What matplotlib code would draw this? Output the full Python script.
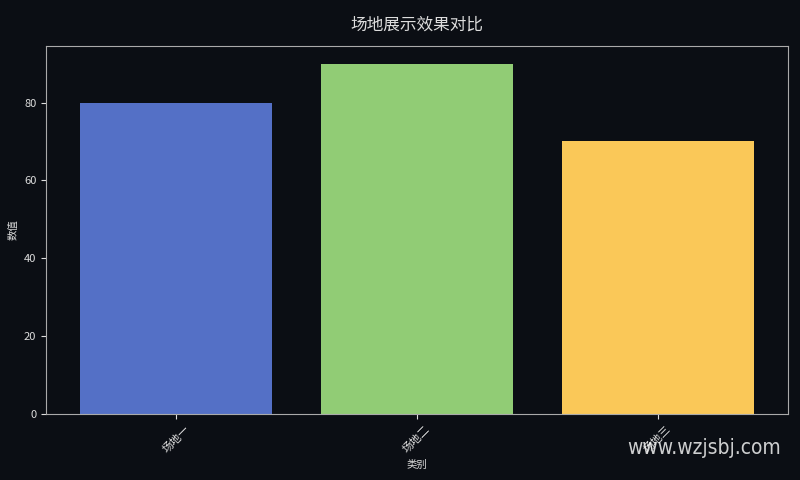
import matplotlib
matplotlib.use("Agg")
import matplotlib.pyplot as plt

plt.rcParams['font.family'] = ['Noto Sans CJK SC', 'DejaVu Sans']

categories = ['场地一', '场地二', '场地三']
values = [80, 90, 70]
colors = ['#5470c6', '#91cc75', '#fac858']

bg = '#0b0e14'
fg = '#dddddd'

fig, ax = plt.subplots(figsize=(8, 4.8), dpi=100)
fig.patch.set_facecolor(bg)
ax.set_facecolor(bg)

ax.bar(categories, values, color=colors, width=0.8)

ax.set_title('场地展示效果对比', color=fg, fontsize=12, pad=12)
ax.set_xlabel('类别', color=fg, fontsize=7.5)
ax.set_ylabel('数值', color=fg, fontsize=7.5)
ax.tick_params(colors=fg, labelsize=8)
for lab in ax.get_xticklabels():
    lab.set_rotation(45)
for s in ax.spines.values():
    s.set_color('#aaaaaa')

fig.subplots_adjust(left=0.0575, right=0.985, bottom=0.1375, top=0.904)

fig.text(0.976, 0.066, 'www.wzjsbj.com', color='white', alpha=0.8,
         fontsize=15, ha='right', va='center', fontstretch='condensed',
         family=['DejaVu Sans'])

fig.savefig('out.png', dpi=100, facecolor=bg)
